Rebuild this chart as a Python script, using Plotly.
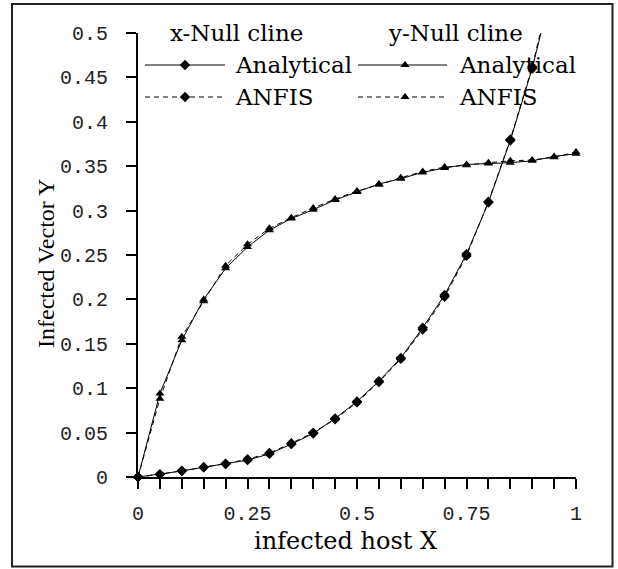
import plotly.graph_objects as go

# ---------------- data ----------------
x_host = [0, 0.05, 0.1, 0.15, 0.2, 0.25, 0.3, 0.35, 0.4, 0.45, 0.5,
          0.55, 0.6, 0.65, 0.7, 0.75, 0.8, 0.85, 0.9, 0.95, 1.0]

# x-Null cline (diamonds), x = 0 .. 0.95 (last point lies above the axis range)
xnull_analytical = [0, 0.003, 0.0068, 0.011, 0.0146, 0.019, 0.026, 0.037, 0.049, 0.066,
                    0.085, 0.108, 0.134, 0.168, 0.205, 0.251, 0.309, 0.379, 0.460, 0.56]
xnull_anfis = [0, 0.003, 0.007, 0.011, 0.015, 0.020, 0.027, 0.038, 0.050, 0.065,
               0.084, 0.107, 0.133, 0.166, 0.203, 0.249, 0.310, 0.380, 0.462, 0.565]

# y-Null cline (triangles), x = 0 .. 1
ynull_analytical = [0, 0.094, 0.154, 0.200, 0.235, 0.259, 0.278, 0.291, 0.301, 0.312, 0.321,
                    0.330, 0.336, 0.343, 0.348, 0.352, 0.353, 0.354, 0.356, 0.361, 0.364]
ynull_anfis = [0, 0.088, 0.158, 0.198, 0.238, 0.262, 0.280, 0.292, 0.303, 0.313, 0.322,
               0.329, 0.337, 0.344, 0.349, 0.351, 0.354, 0.356, 0.357, 0.360, 0.366]

y_tickvals = [0, 0.05, 0.1, 0.15, 0.2, 0.25, 0.3, 0.35, 0.4, 0.45, 0.5]
y_ticktext = ["0", "0.05", "0.1", "0.15", "0.2", "0.25", "0.3", "0.35", "0.4", "0.45", "0.5"]
x_tickvals = x_host
x_ticktext = ["0", "", "", "", "", "0.25", "", "", "", "", "0.5",
              "", "", "", "", "0.75", "", "", "", "", "1"]

# ---------------- layout constants ----------------
W, H = 618, 569
L, R, T, B = 138, 42, 33, 92
PW, PH = W - L - R, H - T - B
X0PX, Y0PX = L, T + PH   # pixel of data origin


def px_x(p):
    return (p - X0PX) / PW


def px_y(p):
    return (Y0PX - p) / PH


def dx(p):  # pixel -> data x
    return (p - X0PX) / PW * 1.0


def dy(p):  # pixel -> data y
    return (Y0PX - p) / PH * 0.5


DASH = "5px,4px"
serif_h = "DejaVu Serif"
serif_v = "Liberation Serif"

fig = go.Figure()

xs = x_host[:len(xnull_analytical)]
fig.add_trace(go.Scatter(x=xs, y=xnull_analytical, mode="lines+markers",
                         line=dict(color="black", width=1),
                         marker=dict(symbol="diamond", size=8, color="black"),
                         cliponaxis=False, showlegend=False))
fig.add_trace(go.Scatter(x=xs, y=xnull_anfis, mode="lines+markers",
                         line=dict(color="black", width=1, dash=DASH),
                         marker=dict(symbol="diamond", size=8, color="black"),
                         cliponaxis=False, showlegend=False))
fig.add_trace(go.Scatter(x=x_host, y=ynull_analytical, mode="lines+markers",
                         line=dict(color="black", width=1),
                         marker=dict(symbol="triangle-up", size=8, color="black"),
                         cliponaxis=False, showlegend=False))
fig.add_trace(go.Scatter(x=x_host, y=ynull_anfis, mode="lines+markers",
                         line=dict(color="black", width=1, dash=DASH),
                         marker=dict(symbol="triangle-up", size=8, color="black"),
                         cliponaxis=False, showlegend=False))

# ---------------- manual legend ----------------
shapes = []
annotations = []
legend_cols = [
    dict(title="x-Null cline", title_left=168, line0=145, line1=225, mark=185,
         text_left=233, symbol="diamond"),
    dict(title="y-Null cline", title_left=386, line0=358, line1=447, mark=405,
         text_left=457, symbol="triangle-up"),
]
rows = [("Analytical", 65, None), ("ANFIS", 97, DASH)]
for col in legend_cols:
    annotations.append(dict(text=col["title"], xref="paper", yref="paper",
                            x=px_x(col["title_left"]), y=px_y(33), xanchor="left",
                            yanchor="middle", showarrow=False,
                            font=dict(family=serif_h, size=23, color="black")))
    for label, ypx, dash in rows:
        shapes.append(dict(type="line", xref="paper", yref="paper",
                           x0=px_x(col["line0"]), x1=px_x(col["line1"]),
                           y0=px_y(ypx), y1=px_y(ypx),
                           line=dict(color="black", width=1, dash=dash or "solid")))
        annotations.append(dict(text=label, xref="paper", yref="paper",
                                x=px_x(col["text_left"]), y=px_y(ypx), xanchor="left",
                                yanchor="middle", showarrow=False,
                                font=dict(family=serif_h, size=23, color="black")))
    fig.add_trace(go.Scatter(x=[dx(col["mark"])] * 2, y=[dy(65), dy(97)], mode="markers",
                             marker=dict(symbol=col["symbol"], size=8, color="black"),
                             cliponaxis=False, showlegend=False, hoverinfo="skip"))

# axis titles
annotations.append(dict(text="infected host X", xref="paper", yref="paper",
                        x=px_x(345), y=px_y(541), xanchor="center", yanchor="middle",
                        showarrow=False, font=dict(family=serif_h, size=24, color="black")))
annotations.append(dict(text="Infected Vector Y", xref="paper", yref="paper",
                        x=px_x(46), y=px_y(264), xanchor="center", yanchor="middle",
                        textangle=-90, showarrow=False,
                        font=dict(family=serif_v, size=24, color="black")))

# outer frame
shapes.append(dict(type="rect", xref="paper", yref="paper",
                   x0=px_x(12), x1=px_x(612.5), y0=px_y(566.5), y1=px_y(4),
                   line=dict(color="#222", width=2), layer="above"))

tickfont = dict(family="Liberation Mono", size=20, color="#222")
fig.update_layout(
    width=W, height=H,
    margin=dict(l=L, r=R, t=T, b=B, pad=0),
    paper_bgcolor="white", plot_bgcolor="white",
    shapes=shapes, annotations=annotations,
    xaxis=dict(range=[0, 1], tickmode="array", tickvals=x_tickvals, ticktext=x_ticktext,
               showgrid=False, zeroline=False, showline=True, linecolor="black", linewidth=2,
               ticks="outside", ticklen=10, tickwidth=1.5, tickcolor="black",
               tickfont=tickfont, ticklabelstandoff=7, fixedrange=True),
    yaxis=dict(range=[0, 0.5], tickmode="array", tickvals=y_tickvals, ticktext=y_ticktext,
               showgrid=False, zeroline=False, showline=True, linecolor="black", linewidth=2,
               ticks="outside", ticklen=10, tickwidth=1.5, tickcolor="black",
               tickfont=tickfont, ticklabelstandoff=14, fixedrange=True),
)

fig.write_html("out.html")
